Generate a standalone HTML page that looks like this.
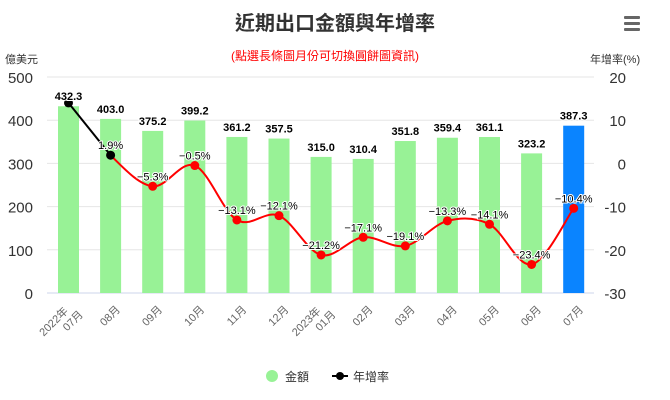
<!DOCTYPE html>
<html><head><meta charset="utf-8"><style>
body{margin:0;background:#fff;}
svg{display:block;font-family:"Liberation Sans","Noto Sans CJK TC",sans-serif;}
</style></head><body>
<svg id="s" width="670" height="400" xmlns="http://www.w3.org/2000/svg">
<rect width="670" height="400" fill="#fff"/>
<text x="335" y="30" text-anchor="middle" font-size="20" font-weight="bold" fill="#333">近期出口金額與年增率</text>
<text x="325" y="60" text-anchor="middle" font-size="12" fill="#ff0000">(點選長條圖月份可切換圓餅圖資訊)</text>
<g fill="#666"><rect x="624" y="16" width="16" height="3" rx="1"/><rect x="624" y="22" width="16" height="3" rx="1"/><rect x="624" y="28" width="16" height="3" rx="1"/></g>
<text x="5" y="63" font-size="11" fill="#333">億美元</text>
<text x="590" y="63" font-size="11" fill="#333">年增率(%)</text>
<g id="grid"></g>
<g id="bars"></g>
<g id="line"></g>
<g id="lbl"></g>
<g>
<circle cx="272" cy="376" r="6" fill="#98f296"/>
<text x="285" y="381" font-size="12" fill="#333">金額</text>
<line x1="332" y1="376" x2="348" y2="376" stroke="#000" stroke-width="2"/>
<circle cx="340" cy="376" r="4" fill="#000"/>
<text x="353" y="381" font-size="12" fill="#333">年增率</text>
</g>
</svg>
<script>
const NS="http://www.w3.org/2000/svg";
function el(p,t,a,txt){const e=document.createElementNS(NS,t);for(const k in a)e.setAttribute(k,a[k]);if(txt!==undefined)e.textContent=txt;document.getElementById(p).appendChild(e);return e;}
const yL=v=>293-v*0.432, yR=p=>293-(p+30)*4.32;
const amt=[432.3,403.0,375.2,399.2,361.2,357.5,315.0,310.4,351.8,359.4,361.1,323.2,387.3];
const gr=[14,1.9,-5.3,-0.5,-13.1,-12.1,-21.2,-17.1,-19.1,-13.3,-14.1,-23.4,-10.4];
const xl=[["2022年","07月"],["08月"],["09月"],["10月"],["11月"],["12月"],["2023年","01月"],["02月"],["03月"],["04月"],["05月"],["06月"],["07月"]];
for(let i=0;i<6;i++){const y=yL(i*100);
 el("grid","line",{x1:47,x2:594,y1:y,y2:y,stroke:i==0?"#ccd6eb":"#e6e6e6","stroke-width":1});
 el("grid","text",{x:33,y:y+6,"text-anchor":"end","font-size":15,fill:"#333"},String(i*100));
 el("grid","text",{x:626,y:y+6,"text-anchor":"end","font-size":15,fill:"#333"},String(i*10-30));
}
const X=i=>68.5+42.1*i;
amt.forEach((v,i)=>{
 el("bars","rect",{x:X(i)-10.5,y:yL(v),width:21,height:293-yL(v),fill:i==12?"#0a84ff":"#98f296"});
 el("lbl","text",{x:X(i),y:yL(v)-6,"text-anchor":"middle","font-size":11,"font-weight":"bold",fill:"#000",stroke:"#fff","stroke-width":2,"paint-order":"stroke"},v.toFixed(1));
 const g=el("lbl","text",{"font-size":11,fill:"#666","text-anchor":"end",transform:`translate(${X(i)+6},306) rotate(-45)`});
 if(xl[i].length==2){
  const a=document.createElementNS(NS,"tspan");a.setAttribute("x",-8);a.setAttribute("y",0);a.textContent=xl[i][0];g.appendChild(a);
  const b=document.createElementNS(NS,"tspan");b.setAttribute("x",0);b.setAttribute("y",13);b.textContent=xl[i][1];g.appendChild(b);
 } else { g.setAttribute("y",6);g.textContent=xl[i][0]; g.setAttribute("x",0);}
});
const P=gr.map((p,i)=>[X(i),yR(p)]);
el("line","line",{x1:P[0][0],y1:P[0][1],x2:P[1][0],y2:P[1][1],stroke:"#000","stroke-width":2});
let d=`M${P[1][0]},${P[1][1]}`;
for(let i=1;i<12;i++){const p0=P[i-1],p1=P[i],p2=P[i+1],p3=P[Math.min(i+2,12)];
 const t=1/6;
 const c1=[p1[0]+(p2[0]-p0[0])*t,p1[1]+(p2[1]-p0[1])*t];
 const c2=[p2[0]-(p3[0]-p1[0])*t,p2[1]-(p3[1]-p1[1])*t];
 d+=` C${c1[0]},${c1[1]} ${c2[0]},${c2[1]} ${p2[0]},${p2[1]}`;}
el("line","path",{d:d,fill:"none",stroke:"#f00","stroke-width":2});
P.forEach((p,i)=>{
 el("line","circle",{cx:p[0],cy:p[1],r:4.5,fill:i<2?"#000":"#f00"});
 if(i>0) el("lbl","text",{x:p[0],y:p[1]-6,"text-anchor":"middle","font-size":11,fill:"#000",stroke:"#fff","stroke-width":2,"paint-order":"stroke"},(gr[i]<0?"−":"")+Math.abs(gr[i]).toFixed(1)+"%");
});
</script>
</body></html>
